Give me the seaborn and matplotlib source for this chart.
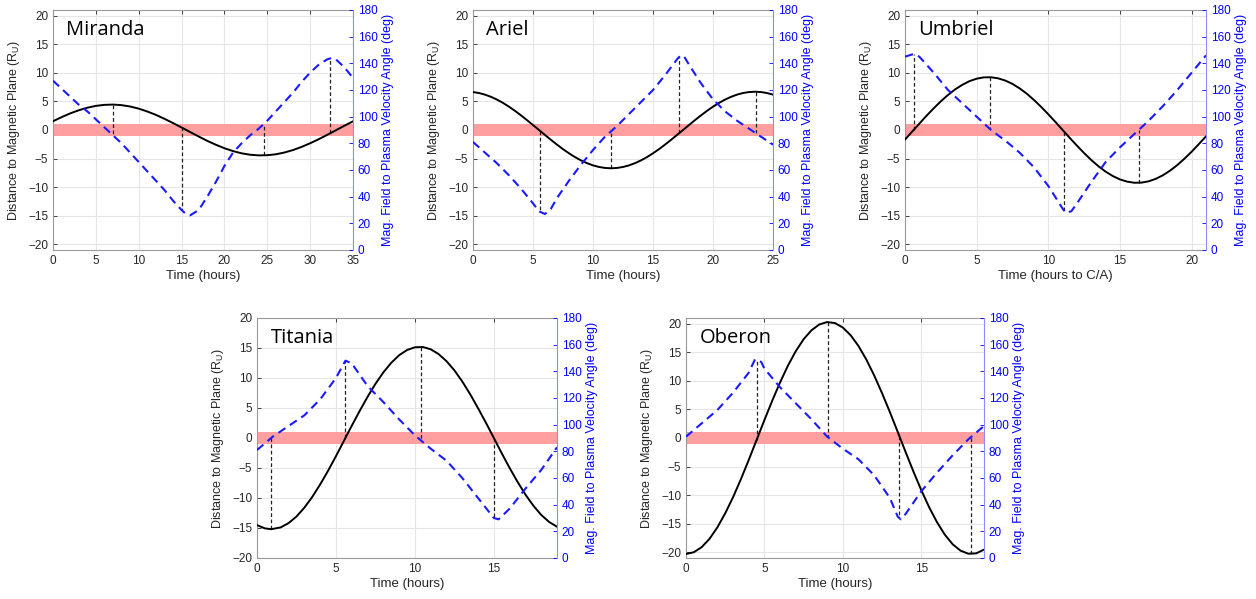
import numpy as np
import pandas as pd
import seaborn as sns
from matplotlib import pyplot as plt

# ---- data ------------------------------------------------------------------
# Miranda
mir_t = list(range(0, 36))
mir_d = [1.53, 2.25, 2.90, 3.45, 3.90, 4.22, 4.40, 4.45, 4.35, 4.11, 3.74, 3.24,
         2.65, 1.96, 1.22, 0.44, -0.36, -1.14, -1.90, -2.58, -3.19, -3.69, -4.08,
         -4.33, -4.44, -4.41, -4.25, -3.94, -3.51, -2.96, -2.32, -1.61, -0.84,
         -0.05, 0.75, 1.52]
mir_at = [0, 1, 2, 3, 4, 5, 6, 7, 8, 9, 10, 11, 12, 13, 14, 15, 15.5, 16, 17, 18,
          19, 20, 21, 22, 23, 24, 25, 26, 27, 28, 29, 30, 31, 32, 32.5, 33, 34, 35]
mir_ang = [127, 121, 115, 109, 104, 98, 92, 86, 80, 73, 66, 59, 52, 45, 37, 30, 27,
           26, 30, 40, 51, 63, 73, 80, 86, 91, 97, 104, 111, 118, 126, 133, 139,
           143, 144, 143, 137, 129]
mir_links = [7.0, 15.0, 24.6, 32.3]

# Ariel
ari_t = [0, 0.5, 1, 1.5, 2, 2.5, 3, 3.5, 4, 4.5, 5, 5.5, 6, 6.5, 7, 7.5, 8, 8.5,
         9, 9.5, 10, 10.5, 11, 11.5, 12, 12.5, 13, 13.5, 14, 14.5, 15, 15.5, 16,
         16.5, 17, 17.5, 18, 18.5, 19, 19.5, 20, 20.5, 21, 21.5, 22, 22.5, 23,
         23.5, 24, 24.5, 25]
ari_d = [6.64, 6.47, 6.19, 5.80, 5.32, 4.74, 4.08, 3.35, 2.56, 1.73, 0.87, 0.00,
         -0.87, -1.73, -2.56, -3.35, -4.08, -4.74, -5.32, -5.80, -6.19, -6.47,
         -6.64, -6.70, -6.64, -6.47, -6.19, -5.80, -5.32, -4.74, -4.08, -3.35,
         -2.56, -1.73, -0.87, 0.00, 0.87, 1.73, 2.56, 3.35, 4.08, 4.74, 5.32,
         5.80, 6.19, 6.47, 6.64, 6.70, 6.64, 6.47, 6.19]
ari_at = [0, 1, 2, 3, 4, 5, 5.5, 6, 6.5, 7, 8, 9, 10, 11, 12, 13, 14, 15, 16, 17,
          17.3, 17.6, 18, 19, 20, 21, 22, 23, 24, 25]
ari_ang = [81, 73, 65, 56, 46, 35, 29, 27, 31, 39, 52, 64, 75, 85, 93, 102, 111,
           120, 131, 143, 146, 145, 139, 125, 113, 104, 97, 91, 85, 79]
ari_links = [5.6, 11.5, 17.2, 23.6]

# Umbriel
umb_t = [0, 0.5, 1, 1.5, 2, 2.5, 3, 3.5, 4, 4.5, 5, 5.5, 6, 6.5, 7, 7.5, 8, 8.5,
         9, 9.5, 10, 10.5, 11, 11.5, 12, 12.5, 13, 13.5, 14, 14.5, 15, 15.5, 16,
         16.5, 17, 17.5, 18, 18.5, 19, 19.5, 20, 20.5, 21]
umb_d = [-1.67, -0.28, 1.11, 2.49, 3.79, 5.02, 6.13, 7.11, 7.91, 8.55, 8.98, 9.21,
         9.23, 9.04, 8.65, 8.06, 7.28, 6.35, 5.25, 4.04, 2.75, 1.39, 0.00, -1.40,
         -2.75, -4.05, -5.26, -6.35, -7.29, -8.06, -8.65, -9.04, -9.23, -9.21,
         -8.98, -8.54, -7.91, -7.10, -6.13, -5.01, -3.79, -2.47, -1.11]
umb_at = [0, 0.6, 1, 2, 3, 4, 5, 6, 7, 8, 9, 10, 11, 11.2, 11.6, 12, 13, 14, 15,
          16, 17, 18, 19, 20, 21]
umb_ang = [145, 147, 145, 133, 120, 110, 100, 90, 82, 73, 62, 48, 31, 28, 29, 35,
           51, 66, 77, 87, 97, 108, 120, 133, 146]
umb_links = [0.6, 5.9, 11.1, 16.3]

# Titania
tit_t = [0, 0.5, 0.9, 1.5, 2, 2.5, 3, 3.5, 4, 4.5, 5, 5.5, 6, 6.5, 7, 7.5, 8,
         8.5, 9, 9.5, 10, 10.5, 11, 11.5, 12, 12.5, 13, 13.5, 14, 14.5, 15, 15.5,
         16, 16.5, 17, 17.5, 18, 18.5, 19]
tit_d = [-14.52, -15.06, -15.20, -14.90, -14.18, -13.09, -11.61, -9.82, -7.74,
         -5.47, -3.03, -0.50, 2.04, 4.50, 6.85, 9.02, 10.93, 12.53, 13.79, 14.66,
         15.12, 15.17, 14.79, 13.99, 12.81, 11.28, 9.42, 7.30, 4.97, 2.54, 0.00,
         -2.54, -5.00, -7.30, -9.43, -11.27, -12.82, -13.99, -14.79]
tit_at = [0, 1, 2, 3, 4, 5, 5.6, 6, 7, 8, 9, 10, 11, 12, 13, 14, 15, 15.3, 16, 17,
          18, 19]
tit_ang = [81, 91, 99, 107, 119, 135, 148, 146, 129, 117, 104, 92, 82, 73, 60, 45,
           30, 29, 37, 52, 66, 83]
tit_links = [0.9, 5.6, 10.4, 15.0]

# Oberon
obe_t = [0, 0.5, 1, 1.5, 2, 2.5, 3, 3.5, 4, 4.5, 5, 5.5, 6, 6.5, 7, 7.5, 8, 8.5,
         9, 9.5, 10, 10.5, 11, 11.5, 12, 12.5, 13, 13.5, 14, 14.5, 15, 15.5, 16,
         16.5, 17, 17.5, 18, 18.5, 19]
obe_d = [-20.30, -19.99, -19.10, -17.64, -15.64, -13.18, -10.36, -7.21, -3.84,
         -0.35, 3.14, 6.54, 9.74, 12.67, 15.20, 17.29, 18.85, 19.87, 20.29, 20.11,
         19.33, 17.97, 16.09, 13.72, 10.94, 7.84, 4.53, 1.06, -2.44, -5.87, -9.12,
         -12.10, -14.72, -16.91, -18.59, -19.71, -20.25, -20.19, -19.53]
obe_at = [0, 1, 2, 3, 4, 4.4, 4.8, 5, 6, 7, 8, 9, 10, 11, 12, 13, 13.5, 13.7, 14,
          15, 16, 17, 18, 19]
obe_ang = [91, 101, 111, 124, 139, 149, 147, 142, 128, 116, 104, 91, 82, 74, 62,
           45, 31, 29, 33, 50, 64, 77, 89, 99]
obe_links = [4.5, 9.05, 13.6, 18.2]

moons = ["Miranda", "Ariel", "Umbriel", "Titania", "Oberon"]
xmax = [35, 25, 21, 19, 19]
ylims = [21, 21, 21, 20, 21]
xlabels = ["Time (hours)", "Time (hours)", "Time (hours to C/A)",
           "Time (hours)", "Time (hours)"]
series = [(mir_t, mir_d, mir_at, mir_ang, mir_links),
          (ari_t, ari_d, ari_at, ari_ang, ari_links),
          (umb_t, umb_d, umb_at, umb_ang, umb_links),
          (tit_t, tit_d, tit_at, tit_ang, tit_links),
          (obe_t, obe_d, obe_at, obe_ang, obe_links)]

# ---- figure ---------------------------------------------------------------
sns.set_style("white")
plt.rcParams['font.family'] = ['Liberation Sans', 'DejaVu Sans']

W, H = 1256, 599
fig = plt.figure(figsize=(W / 100, H / 100), dpi=100)
# axes boxes in pixels: left, top, right, bottom
boxes = [(53, 10, 353, 250), (473, 10, 773, 250), (905, 10, 1206, 250),
         (257, 318, 557, 558), (686, 318, 984, 558)]

for i, name in enumerate(moons):
    l, t, r, b = boxes[i]
    ax = fig.add_axes([l / W, 1 - b / H, (r - l) / W, (b - t) / H])
    ax2 = ax.twinx()   # sits on top of ax, transparent
    td, dd, ta, aa, links = series[i]
    lim = ylims[i]

    ax.axhspan(-1, 1, color='#ff9f9f', lw=0, zorder=1)
    sns.lineplot(x=td, y=dd, ax=ax, color='black', lw=1.4, zorder=4,
                 estimator=None, errorbar=None)
    sns.lineplot(x=ta, y=aa, ax=ax2, color='#1a1aff', lw=1.5,
                 estimator=None, errorbar=None, linestyle=(0, (4, 2.6)),
                 zorder=4)

    # vertical connectors between the two curves (angle mapped to left axis)
    for tl in links:
        y1 = np.interp(tl, td, dd)
        y2 = (np.interp(tl, ta, aa) - 90) * lim / 90
        ax.plot([tl, tl], [y1, y2], color='#222222', lw=0.9,
                ls=(0, (3, 2)), zorder=3)

    ax.set_xlim(0, xmax[i])
    ax.set_xticks(range(0, xmax[i] + 1, 5))
    ax.set_ylim(-lim, lim)
    ax.set_yticks(range(-20, 21, 5))
    ax2.set_ylim(0, 180)
    ax2.set_yticks(range(0, 181, 20))
    ax.grid(True, color='#e6e6e6', lw=0.8)
    ax.set_axisbelow(True)

    ax.set_xlabel(xlabels[i], fontsize=9.5, color='#262626', labelpad=2)
    ax.set_ylabel('Distance to Magnetic Plane (R$_\\mathregular{U}$)', fontsize=9,
                  color='#262626', labelpad=4)
    ax2.set_ylabel('Mag. Field to Plasma Velocity Angle (deg)', fontsize=9,
                   color='#0000ff', labelpad=3)
    ax.tick_params(axis='both', direction='in', length=3, labelsize=8.5,
                   colors='#262626', top=True, right=False, width=0.6)
    ax2.tick_params(axis='y', direction='in', length=3, labelsize=8.5,
                    colors='#0000ff', width=0.6)
    for s in ['left', 'bottom', 'top']:
        ax.spines[s].set_color('#9a9a9a')
        ax.spines[s].set_linewidth(0.8)
    ax2.spines['right'].set_color('#8c8cff')
    ax2.spines['left'].set_visible(False)
    ax2.spines['top'].set_visible(False)
    ax2.spines['bottom'].set_visible(False)
    ax.spines['right'].set_visible(False)

    ax2.text(0.045, 0.96, name, transform=ax2.transAxes, fontsize=14.5,
             family=['Open Sans', 'DejaVu Sans'], va='top', ha='left',
             color='black', zorder=6)

fig.savefig('out.png', dpi=100)
